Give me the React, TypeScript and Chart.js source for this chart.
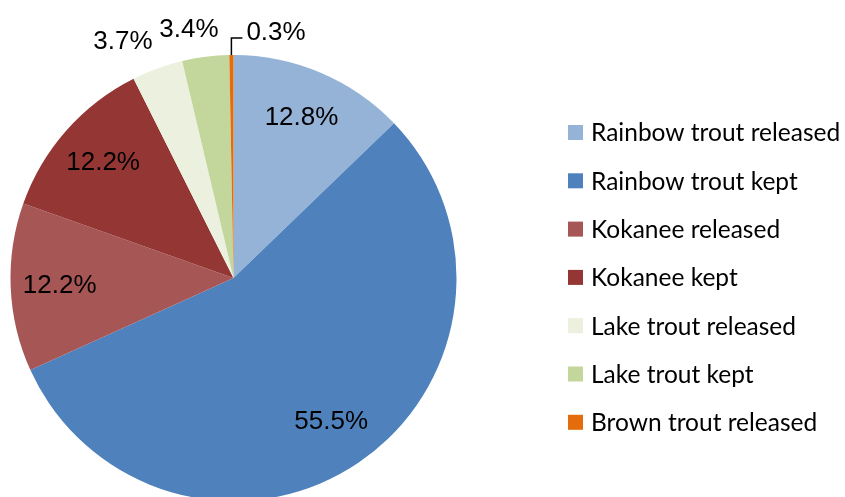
import React, { useEffect, useRef } from "react";
import { Chart, registerables } from "chart.js";
Chart.register(...registerables);

const categories = [
  "Rainbow trout released",
  "Rainbow trout kept",
  "Kokanee released",
  "Kokanee kept",
  "Lake trout released",
  "Lake trout kept",
  "Brown trout released",
];
const values = [12.8, 55.5, 12.2, 12.2, 3.7, 3.4, 0.3];
const valueLabels = ["12.8%", "55.5%", "12.2%", "12.2%", "3.7%", "3.4%", "0.3%"];
const colors = ["#95B3D7", "#4F81BD", "#A65655", "#943634", "#EBF1DE", "#C3D69B", "#E46C0A"];

const labelPlugin = {
  id: "sliceLabels",
  afterDatasetsDraw(chart: any) {
    const ctx = chart.ctx;
    const meta = chart.getDatasetMeta(0);
    const total = values.reduce((a, b) => a + b, 0);
    ctx.save();
    ctx.font = '26px "Liberation Sans", Arial, sans-serif';
    ctx.fillStyle = "#000";
    meta.data.forEach((arc: any, i: number) => {
      const { x, y, startAngle, endAngle, outerRadius } = arc.getProps(
        ["x", "y", "startAngle", "endAngle", "outerRadius"],
        true
      );
      const mid = (startAngle + endAngle) / 2;
      const frac = values[i] / total;
      const c = Math.cos(mid);
      const s = Math.sin(mid);
      if (frac > 0.05) {
        const r = outerRadius * 0.78;
        ctx.textAlign = "center";
        ctx.textBaseline = "middle";
        ctx.fillText(valueLabels[i], x + c * r, y + s * r);
      } else if (frac >= 0.01) {
        const r = outerRadius + 14;
        const ax = x + c * r;
        const ay = y + s * r;
        const w = ctx.measureText(valueLabels[i]).width;
        const k = Math.max(-1, Math.min(1, c / 0.25));
        ctx.textAlign = "center";
        ctx.textBaseline = s < 0 ? "bottom" : "top";
        ctx.fillText(valueLabels[i], ax + (k * w) / 2, ay);
      } else {
        const px = x + c * outerRadius;
        const py = y + s * outerRadius;
        const p1y = py - 17;
        const p2x = px + 11;
        ctx.strokeStyle = "#000";
        ctx.lineWidth = 1.5;
        ctx.beginPath();
        ctx.moveTo(px, py);
        ctx.lineTo(px, p1y);
        ctx.lineTo(p2x, p1y);
        ctx.stroke();
        ctx.textAlign = "left";
        ctx.textBaseline = "middle";
        ctx.fillText(valueLabels[i], p2x + 4, p1y - 5);
      }
    });
    ctx.restore();
  },
  afterDraw(chart: any) {
    const ctx = chart.ctx;
    ctx.save();
    ctx.font = '24.5px Lato, "Open Sans", sans-serif';
    ctx.textAlign = "left";
    ctx.textBaseline = "middle";
    categories.forEach((name, i) => {
      const cy = 132.5 + i * 48.3;
      ctx.fillStyle = colors[i];
      ctx.fillRect(568, cy - 7.5, 15, 15);
      ctx.fillStyle = "#000";
      ctx.fillText(name, 591, cy + 1);
    });
    ctx.restore();
  },
};

export default function App() {
  const ref = useRef<HTMLCanvasElement>(null);
  useEffect(() => {
    document.body.style.margin = "0";
    document.body.style.overflow = "hidden";
    const chart = new Chart(ref.current!, {
      type: "pie",
      data: {
        labels: categories,
        datasets: [
          {
            data: values,
            backgroundColor: colors,
            borderWidth: 0,
            hoverOffset: 0,
            offset: 0,
          },
        ],
      },
      options: {
        responsive: false,
        animation: false,
        layout: { padding: { left: 10.5, right: 388.5, top: 55, bottom: 9 } },
        plugins: {
          legend: { display: false },
          tooltip: { enabled: false },
        },
      },
      plugins: [labelPlugin],
    });
    return () => chart.destroy();
  }, []);
  return (
    <div style={{ position: "absolute", left: 0, top: 0, width: 845, height: 497, overflow: "hidden", background: "#fff" }}>
      <canvas ref={ref} width={845} height={510} style={{ display: "block" }} />
    </div>
  );
}
